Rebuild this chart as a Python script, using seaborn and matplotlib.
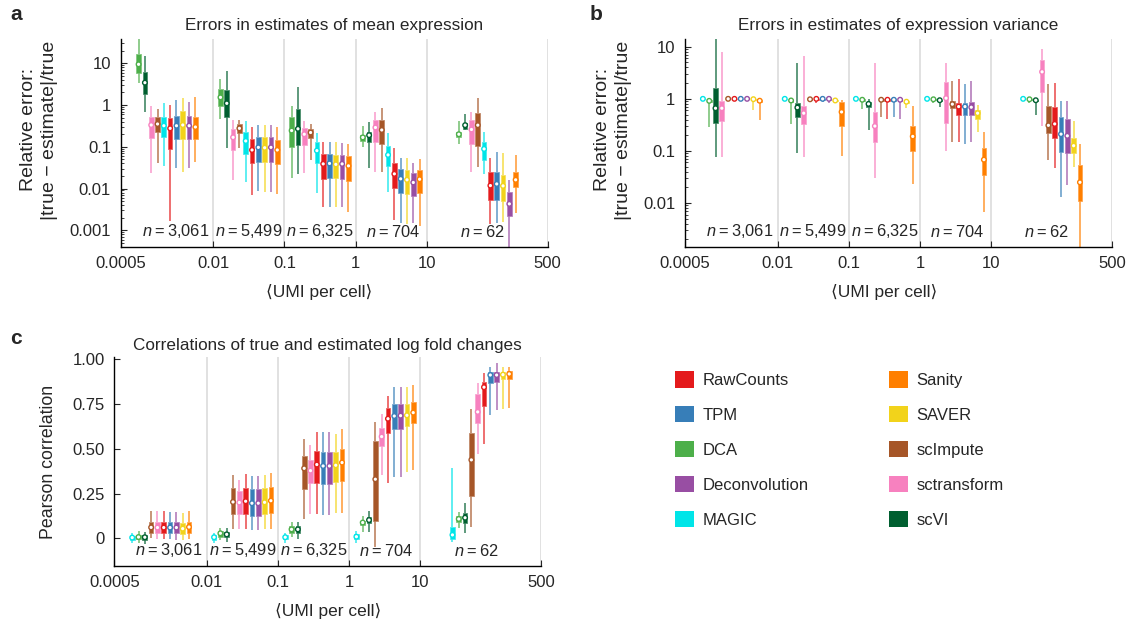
import numpy as np
import pandas as pd
import matplotlib
matplotlib.use("Agg")
import matplotlib.pyplot as plt
import seaborn as sns
from matplotlib.patches import Patch
from matplotlib.colors import to_rgb
from matplotlib.ticker import FixedLocator, FixedFormatter, NullLocator, LogLocator

# ---- data ---------------------------------------------------------------
methods_legend = ["RawCounts", "TPM", "DCA", "Deconvolution", "MAGIC",
                  "Sanity", "SAVER", "scImpute", "sctransform", "scVI"]
method_colors = ["#E41A1C", "#377EB8", "#4DAF4A", "#984EA3", "#00E5E8",
                 "#FF7F00", "#F2D31B", "#A65628", "#F781BF", "#005F30"]

umi_bounds = [0.0005, 0.01, 0.1, 1, 10, 500]
umi_labels = ["0.0005", "0.01", "0.1", "1", "10", "500"]
n_genes = ["3,061", "5,499", "6,325", "704", "62"]

# panel a: errors in mean, rows in plotted order, columns = the 5 datasets
order_mean = ["DCA", "scVI", "sctransform", "scImpute", "MAGIC",
              "RawCounts", "TPM", "SAVER", "Deconvolution", "Sanity"]
mean_lo = [[3.44, 0.456, 0.0176, 0.098, 0.117],
           [0.695, 0.092, 0.0225, 0.0305, 0.25],
           [0.024, 0.016, 0.024, 0.025, 0.025],
           [0.042, 0.092, 0.048, 0.025, 0.033],
           [0.035, 0.0147, 0.008, 0.0083, 0.0225],
           [0.0017, 0.007, 0.0036, 0.0018, 0.0014],
           [0.0305, 0.0089, 0.0036, 0.0015, 0.0015],
           [0.0254, 0.0082, 0.0036, 0.0014, 0.0016],
           [0.0305, 0.0082, 0.0036, 0.0015, 0.0003],
           [0.0426, 0.0073, 0.0028, 0.0013, 0.0026]]
mean_q1 = [[5.97, 0.95, 0.098, 0.141, 0.175],
           [1.84, 0.509, 0.11, 0.13, 0.27],
           [0.16, 0.084, 0.112, 0.133, 0.117],
           [0.231, 0.21, 0.16, 0.12, 0.105],
           [0.169, 0.067, 0.042, 0.0355, 0.048],
           [0.087, 0.0403, 0.017, 0.0101, 0.0053],
           [0.151, 0.044, 0.0176, 0.0078, 0.0053],
           [0.151, 0.044, 0.0176, 0.0075, 0.005],
           [0.151, 0.044, 0.017, 0.0068, 0.0022],
           [0.151, 0.039, 0.0155, 0.0078, 0.0107]]
mean_med = [[9.46, 1.53, 0.245, 0.168, 0.2],
            [3.44, 1.10, 0.27, 0.19, 0.33],
            [0.333, 0.169, 0.2, 0.29, 0.26],
            [0.352, 0.277, 0.22, 0.253, 0.33],
            [0.32, 0.138, 0.081, 0.064, 0.089],
            [0.277, 0.084, 0.039, 0.0225, 0.0118],
            [0.32, 0.097, 0.04, 0.0171, 0.0129],
            [0.333, 0.095, 0.038, 0.0162, 0.0116],
            [0.32, 0.097, 0.039, 0.014, 0.0043],
            [0.298, 0.084, 0.035, 0.0167, 0.0162]]
mean_q3 = [[16.7, 2.38, 0.51, 0.19, 0.23],
           [6.31, 2.30, 0.82, 0.226, 0.37],
           [0.528, 0.262, 0.28, 0.44, 0.44],
           [0.528, 0.352, 0.27, 0.44, 0.64],
           [0.528, 0.222, 0.13, 0.105, 0.133],
           [0.5, 0.151, 0.067, 0.040, 0.025],
           [0.548, 0.169, 0.067, 0.0294, 0.025],
           [0.734, 0.169, 0.064, 0.028, 0.0213],
           [0.56, 0.169, 0.065, 0.0231, 0.0081],
           [0.528, 0.146, 0.06, 0.028, 0.025]]
mean_hi = [[40, 4.14, 0.97, 0.315, 0.415],
           [15.0, 6.55, 2.66, 0.4, 0.6],
           [0.95, 0.44, 0.41, 0.69, 0.69],
           [0.79, 0.44, 0.35, 0.84, 1.45],
           [1.14, 0.416, 0.22, 0.22, 0.23],
           [1.0, 0.304, 0.133, 0.092, 0.053],
           [1.32, 0.333, 0.128, 0.053, 0.074],
           [1.51, 0.333, 0.128, 0.053, 0.073],
           [1.21, 0.34, 0.125, 0.042, 0.0162],
           [1.58, 0.304, 0.117, 0.05, 0.064]]

# panel b: errors in variance
order_var = ["MAGIC", "DCA", "scVI", "sctransform", "scImpute",
             "RawCounts", "TPM", "Deconvolution", "SAVER", "Sanity"]
var_lo = [[1, 1, 1, 1, 1],
          [0.286, 0.33, 0.63, 0.85, 0.83],
          [0.076, 0.093, 0.254, 0.69, 0.48],
          [0.076, 0.078, 0.03, 0.098, 0.3],
          [1, 0.87, 0.44, 0.15, 0.068],
          [1, 0.83, 0.41, 0.147, 0.047],
          [1, 0.88, 0.45, 0.137, 0.013],
          [1, 0.85, 0.41, 0.15, 0.022],
          [0.615, 0.9, 0.66, 0.23, 0.05],
          [0.384, 0.08, 0.023, 0.0066, 0.001]]
var_q1 = [[1, 1, 1, 1, 1],
          [0.86, 0.88, 0.92, 0.95, 0.95],
          [0.34, 0.44, 0.69, 0.9, 0.9],
          [0.38, 0.33, 0.147, 0.35, 1.38],
          [1, 0.95, 0.92, 0.66, 0.22],
          [1, 0.96, 0.92, 0.48, 0.176],
          [1, 0.97, 0.92, 0.48, 0.094],
          [1, 0.96, 0.92, 0.48, 0.09],
          [0.95, 0.91, 0.83, 0.41, 0.09],
          [0.87, 0.30, 0.10, 0.034, 0.0107]]
var_med = [[1, 1, 1, 1, 1],
           [0.915, 0.93, 0.96, 0.98, 0.98],
           [0.66, 0.68, 0.8, 0.94, 0.94],
           [0.66, 0.53, 0.30, 1.03, 3.3],
           [1, 0.98, 0.96, 0.79, 0.31],
           [1, 1, 0.96, 0.71, 0.33],
           [1, 1, 0.96, 0.71, 0.21],
           [1, 1, 0.96, 0.69, 0.195],
           [0.985, 0.93, 0.88, 0.53, 0.126],
           [0.92, 0.56, 0.19, 0.068, 0.025]]
var_q3 = [[1, 1, 1, 1, 1],
          [0.95, 0.96, 0.98, 0.99, 0.99],
          [1.6, 0.83, 0.87, 0.97, 0.97],
          [0.89, 0.73, 0.57, 2.15, 5.6],
          [1, 0.99, 0.98, 0.89, 0.73],
          [1, 1, 0.98, 0.85, 0.69],
          [1, 1, 0.98, 0.85, 0.44],
          [1, 1, 0.98, 0.86, 0.41],
          [1, 0.95, 0.92, 0.62, 0.18],
          [0.97, 0.87, 0.30, 0.113, 0.054]]
var_hi = [[1, 1, 1, 1, 1],
          [0.99, 0.99, 0.995, 1, 1],
          [14, 4.8, 0.985, 0.99, 0.99],
          [8.1, 6.5, 4.8, 4.8, 9.0],
          [1, 1, 1, 2.2, 1.94],
          [1, 1, 1, 2.4, 2.03],
          [1, 1, 1, 1.94, 0.89],
          [1, 1, 1, 2.2, 0.89],
          [1, 0.97, 0.95, 0.77, 0.38],
          [0.99, 0.96, 0.74, 0.236, 0.137]]

# panel c: correlations of log fold changes
order_lfc = ["MAGIC", "DCA", "scVI", "scImpute", "sctransform",
             "RawCounts", "TPM", "Deconvolution", "SAVER", "Sanity"]
lfc_lo = [[-0.028, -0.028, -0.028, -0.028, -0.022],
          [-0.024, -0.009, 0.006, 0.037, 0.056],
          [-0.032, -0.019, -0.004, 0.037, 0.032],
          [0.0, 0.05, 0.108, -0.047, 0.065],
          [-0.006, 0.05, 0.136, 0.354, 0.471],
          [-0.006, 0.05, 0.136, 0.311, 0.525],
          [-0.006, 0.047, 0.13, 0.345, 0.689],
          [-0.009, 0.047, 0.13, 0.345, 0.717],
          [-0.009, 0.05, 0.143, 0.372, 0.721],
          [-0.006, 0.05, 0.143, 0.382, 0.73]]
lfc_q1 = [[-0.009, -0.009, -0.006, -0.006, -0.004],
          [-0.006, 0.009, 0.032, 0.073, 0.089],
          [-0.009, 0.006, 0.028, 0.084, 0.088],
          [0.032, 0.136, 0.274, 0.097, 0.237],
          [0.032, 0.136, 0.307, 0.516, 0.642],
          [0.032, 0.136, 0.307, 0.587, 0.741],
          [0.028, 0.125, 0.304, 0.609, 0.87],
          [0.028, 0.125, 0.304, 0.609, 0.875],
          [0.024, 0.134, 0.317, 0.628, 0.888],
          [0.032, 0.14, 0.322, 0.642, 0.89]]
lfc_med = [[0.004, 0.006, 0.006, 0.009, 0.019],
           [0.007, 0.028, 0.05, 0.088, 0.108],
           [0.006, 0.022, 0.05, 0.102, 0.115],
           [0.061, 0.203, 0.391, 0.33, 0.438],
           [0.06, 0.2, 0.378, 0.568, 0.706],
           [0.06, 0.207, 0.412, 0.668, 0.844],
           [0.06, 0.196, 0.404, 0.683, 0.912],
           [0.06, 0.196, 0.404, 0.685, 0.912],
           [0.054, 0.201, 0.408, 0.687, 0.914],
           [0.063, 0.21, 0.423, 0.702, 0.918]]
lfc_q3 = [[0.013, 0.019, 0.017, 0.024, 0.065],
          [0.02, 0.043, 0.069, 0.099, 0.125],
          [0.019, 0.037, 0.069, 0.117, 0.14],
          [0.093, 0.279, 0.46, 0.546, 0.59],
          [0.093, 0.264, 0.438, 0.618, 0.804],
          [0.093, 0.283, 0.486, 0.726, 0.875],
          [0.089, 0.274, 0.482, 0.749, 0.927],
          [0.093, 0.274, 0.482, 0.749, 0.927],
          [0.084, 0.279, 0.482, 0.749, 0.927],
          [0.093, 0.287, 0.499, 0.76, 0.935]]
lfc_hi = [[0.032, 0.032, 0.032, 0.043, 0.391],
          [0.039, 0.06, 0.093, 0.125, 0.149],
          [0.037, 0.056, 0.093, 0.153, 0.196],
          [0.155, 0.354, 0.555, 0.652, 0.723],
          [0.15, 0.326, 0.521, 0.693, 0.866],
          [0.15, 0.358, 0.592, 0.795, 0.922],
          [0.145, 0.35, 0.592, 0.847, 0.959],
          [0.148, 0.35, 0.596, 0.847, 0.978],
          [0.14, 0.354, 0.58, 0.847, 0.959],
          [0.15, 0.363, 0.611, 0.857, 0.959]]

# ---- style --------------------------------------------------------------
sns.set_style("white")
plt.rcParams["font.family"] = ["Liberation Sans", "DejaVu Sans"]
plt.rcParams["mathtext.fontset"] = "custom"
plt.rcParams["mathtext.rm"] = "Liberation Sans"
plt.rcParams["mathtext.it"] = "Liberation Sans:italic"

palette = dict(zip(methods_legend, method_colors))
STEP = 0.0887      # spacing between boxes, in decades of UMI
BOX_W = 0.066      # box width, in decades
log_bounds = np.log10(umi_bounds)
centers = (log_bounds[:-1] + log_bounds[1:]) / 2
n_shift = [0.12, 0, 0, 0.02, -0.07]   # small nudges of the n= labels (decades)


def lighter(c, f):
    r = np.array(to_rgb(c))
    return tuple(r + (1 - r) * f)


def long_table(order, lo, q1, med, q3, hi):
    rows = []
    for r, m in enumerate(order):
        for d in range(5):
            umi = 10 ** (centers[d] + (r - 4.5) * STEP)
            for v in (lo[r][d], q1[r][d], med[r][d], q3[r][d], hi[r][d]):
                rows.append((m, d, umi, v))
    return pd.DataFrame(rows, columns=["method", "dataset", "umi", "value"])


def draw_panel(ax, order, stats, logy):
    df = long_table(order, *stats)
    for (m, d), sub in df.groupby(["method", "dataset"], sort=False):
        c = palette[m]
        sns.boxplot(data=sub, x="umi", y="value", ax=ax, orient="x",
                    native_scale=True, log_scale=(True, logy),
                    color=c, saturation=1, width=BOX_W, whis=(0, 100),
                    showcaps=False, showfliers=False, linewidth=0.6,
                    linecolor=lighter(c, 0.3),
                    whiskerprops=dict(color=lighter(c, 0.2), linewidth=1.1),
                    medianprops=dict(visible=False))
    meds = df.groupby(["method", "dataset", "umi"], sort=False)["value"].median().reset_index()
    sns.scatterplot(data=meds, x="umi", y="value", ax=ax, color="white",
                    edgecolor=[palette[m] for m in meds["method"]],
                    linewidth=1.0, s=11, zorder=5, legend=False)

    for b in umi_bounds[1:]:
        ax.axvline(b, color="#dcdcdc", lw=1.2, zorder=0)
    ax.set_xscale("log")
    ax.set_xlim(umi_bounds[0], umi_bounds[-1])
    ax.xaxis.set_major_locator(FixedLocator(umi_bounds))
    ax.xaxis.set_major_formatter(FixedFormatter(umi_labels))
    ax.xaxis.set_minor_locator(NullLocator())
    for d in range(5):
        ax.text(10 ** (centers[d] + n_shift[d]), 0.03,
                f"$n$\u2009=\u2009{n_genes[d]}",
                transform=ax.get_xaxis_transform(), ha="center", va="bottom",
                fontsize=11.8)
    for s in ["top", "right"]:
        ax.spines[s].set_visible(False)
    for s in ["left", "bottom"]:
        ax.spines[s].set_color("black")
        ax.spines[s].set_linewidth(1.0)
    ax.tick_params(which="major", direction="in", length=4, width=0.8,
                   labelsize=12, pad=7, left=True, bottom=True)
    ax.tick_params(which="minor", direction="in", length=2.2, width=0.6, left=True)
    ax.set_xlabel("⟨UMI per cell⟩", fontsize=12.5)


fig = plt.figure(figsize=(11.31, 6.21), dpi=100)
W, H = 1131, 621
ax_a = fig.add_axes([120.7 / W, 1 - 246.7 / H, 427 / W, 207.4 / H])
ax_b = fig.add_axes([685 / W, 1 - 246.7 / H, 427 / W, 207.4 / H])
ax_c = fig.add_axes([114.3 / W, 1 - 565.7 / H, 427 / W, 208.4 / H])

err_label = "Relative error:\n|true − estimate|/true"

# panel a
draw_panel(ax_a, order_mean, (mean_lo, mean_q1, mean_med, mean_q3, mean_hi), True)
ax_a.set_ylim(0.000405, 37.6)
ax_a.yaxis.set_major_locator(FixedLocator([0.001, 0.01, 0.1, 1, 10]))
ax_a.yaxis.set_major_formatter(FixedFormatter(["0.001", "0.01", "0.1", "1", "10"]))
ax_a.yaxis.set_minor_locator(LogLocator(base=10, subs=np.arange(2, 10)))
ax_a.set_title("Errors in estimates of mean expression", fontsize=12.3, pad=7)
ax_a.set_ylabel(err_label, fontsize=14, linespacing=1.3)
ax_a.yaxis.set_label_coords(-0.147, 0.563)
ax_a.xaxis.set_label_coords(0.464, -0.18)

# panel b
draw_panel(ax_b, order_var, (var_lo, var_q1, var_med, var_q3, var_hi), True)
ax_b.set_ylim(0.00145, 13.9)
ax_b.yaxis.set_major_locator(FixedLocator([0.01, 0.1, 1, 10]))
ax_b.yaxis.set_major_formatter(FixedFormatter(["0.01", "0.1", "1", "10"]))
ax_b.yaxis.set_minor_locator(LogLocator(base=10, subs=np.arange(2, 10)))
ax_b.set_title("Errors in estimates of expression variance", fontsize=12.3, pad=7)
ax_b.set_ylabel(err_label, fontsize=14, linespacing=1.3)
ax_b.yaxis.set_label_coords(-0.124, 0.563)
ax_b.xaxis.set_label_coords(0.466, -0.18)

# panel c
draw_panel(ax_c, order_lfc, (lfc_lo, lfc_q1, lfc_med, lfc_q3, lfc_hi), False)
ax_c.set_ylim(-0.153, 1.011)
ax_c.yaxis.set_major_locator(FixedLocator([0, 0.25, 0.5, 0.75, 1.0]))
ax_c.yaxis.set_major_formatter(FixedFormatter(["0", "0.25", "0.50", "0.75", "1.00"]))
ax_c.yaxis.set_minor_locator(NullLocator())
ax_c.set_title("Correlations of true and estimated log fold changes", fontsize=12.3, pad=5)
ax_c.set_ylabel("Pearson correlation", fontsize=12.8)
ax_c.yaxis.set_label_coords(-0.135, 0.5)
ax_c.xaxis.set_label_coords(0.5, -0.178)

# panel letters
fig.text(10 / W, 1 - 15 / H, "a", fontsize=15, fontweight="bold", va="center")
fig.text(590 / W, 1 - 15 / H, "b", fontsize=15, fontweight="bold", va="center")
fig.text(10 / W, 1 - 338 / H, "c", fontsize=15, fontweight="bold", va="center")

# legend
handles = [Patch(facecolor=palette[m], edgecolor="none") for m in methods_legend]
fig.legend(handles, methods_legend, ncol=2, loc="upper left",
           bbox_to_anchor=(675 / W, 1 - 371 / H), frameon=False, fontsize=12,
           handlelength=1.15, handleheight=1.15, handletextpad=0.5,
           labelspacing=1.08, columnspacing=4.8, borderpad=0, borderaxespad=0)

fig.savefig("out.png", dpi=100)
